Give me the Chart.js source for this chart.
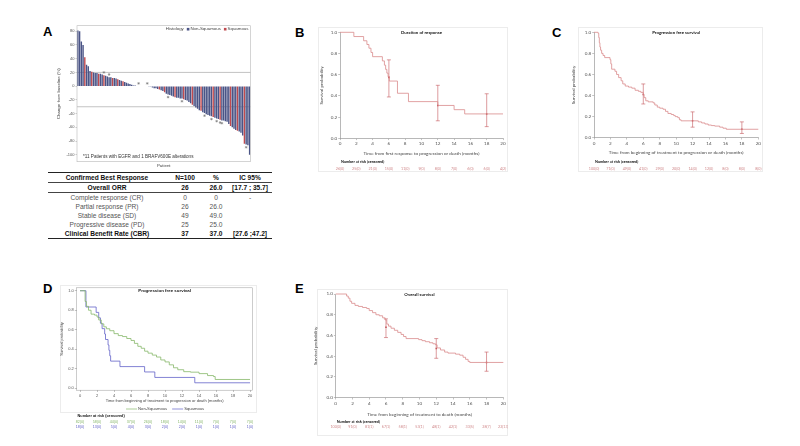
<!DOCTYPE html>
<html>
<head>
<meta charset="utf-8">
<title>Best response and survival</title>
<script src="https://cdn.jsdelivr.net/npm/chart.js@4.4.1/dist/chart.umd.min.js"></script>
<style>
  html, body { margin: 0; padding: 0; background: #fff; }
  body { position: relative; width: 800px; height: 446px; overflow: hidden; font-family: "Liberation Sans", Arial, sans-serif; }
  .panel { position: absolute; }
  .frame { position: absolute; border: 1px solid #ececec; box-sizing: border-box; }
  .letter { position: absolute; font: bold 13px/13px "Liberation Sans", Arial, sans-serif; color: #000; }
  #tbl { position: absolute; left: 48px; top: 172px; width: 224px; border-collapse: collapse; table-layout: fixed;
         font: 6.6px "Liberation Sans", Arial, sans-serif; color: #555; }
  #tbl td { height: 9px; line-height: 9px; padding: 0; text-align: center; white-space: nowrap; }
  #tbl tr.b td { font-weight: bold; color: #111; }
  #tbl tr.head td { border-top: 1.6px solid #222; border-bottom: 0.8px solid #444; }
  #tbl tr.orr td { border-bottom: 0.8px solid #444; }
  #tbl tr.last td { border-bottom: 1.6px solid #222; }
</style>
</head>
<body>

<div class="letter" style="left:43px;top:25px">A</div>
<div class="letter" style="left:295px;top:26px">B</div>
<div class="letter" style="left:552px;top:25.5px">C</div>
<div class="letter" style="left:43px;top:281.5px">D</div>
<div class="letter" style="left:295px;top:281.5px">E</div>

<div class="frame" style="left:318px;top:27px;width:190px;height:145px"></div>
<div class="frame" style="left:578px;top:27px;width:185px;height:145px"></div>
<div class="frame" style="left:60px;top:285px;width:197px;height:128px"></div>
<div class="frame" style="left:317px;top:289px;width:191px;height:147px"></div>

<div class="panel" style="left:55px;top:20px;width:200px;height:150px"><canvas id="chartA"></canvas></div>
<div class="panel" style="left:318px;top:27px;width:190px;height:146px"><canvas id="chartB"></canvas></div>
<div class="panel" style="left:570px;top:27px;width:193px;height:146px"><canvas id="chartC"></canvas></div>
<div class="panel" style="left:58px;top:283px;width:200px;height:149px"><canvas id="chartD"></canvas></div>
<div class="panel" style="left:312px;top:289px;width:196px;height:146px"><canvas id="chartE"></canvas></div>

<table id="tbl">
  <colgroup><col style="width:118px"><col style="width:38px"><col style="width:24px"><col style="width:44px"></colgroup>
  <tbody id="tbl-body"></tbody>
</table>

<script>
// ---------- A: waterfall (best change from baseline, %) ----------
const waterfall = [81, 80, 65, 60, 42, 31, 29, 22, 21, 20, 19, 19, 18, 18, 17, 16, 15, 14, 13, 13, 12, 12, 11, 10, 9, 8, 7, 6, 5, 4, 3, 2,
  1, 1, 0, 0, 0, 0, 0, 0, 0, -1, -1,
  -2, -3, -3, -4, -5, -6, -7, -9, -11, -12, -13, -14, -15, -16, -17, -17, -18, -18, -19, -20, -21, -23, -25, -27, -29,
  -31, -33, -35, -36, -38, -39, -41, -42, -43, -44, -45, -46, -47, -48, -49, -50, -50, -51, -52, -55, -58, -60, -62,
  -64, -65, -66, -68, -72, -84, -85, -86, -100];
const squamousIdx = [4, 8, 12, 15, 20, 23, 26, 47, 50, 56, 61, 66, 71, 78, 82, 88, 92, 96];
const alterationIdx = [15, 18, 35, 40, 52, 60, 73, 77, 80, 82, 83, 97];
const waterRefLines = [20, -30];
const waterTicks = [80, 60, 40, 20, 0, -20, -40, -60, -80, -100];

// ---------- A: response table ----------
const respLabels = ['Confirmed Best Response', 'Overall ORR', 'Complete response (CR)', 'Partial response (PR)',
  'Stable disease (SD)', 'Progressive disease (PD)', 'Clinical Benefit Rate (CBR)'];
const respN = ['N=100', '26', '0', '26', '49', '25', '37'];
const respPct = ['%', '26.0', '0', '26.0', '49.0', '25.0', '37.0'];
const respCI = ['IC 95%', '[17.7 ; 35.7]', '-', '', '', '', '[27.6 ;47.2]'];

// ---------- survival axes ----------
const monthTicks = [0, 2, 4, 6, 8, 10, 12, 14, 16, 18, 20];
const probTicks = [0, 0.2, 0.4, 0.6, 0.8, 1.0];

// ---------- B: duration of response ----------
const bTime = [0, 1.7, 2.9, 3.3, 3.55, 3.8, 4.0, 5.2, 5.45, 5.6, 5.75, 5.9, 6.05, 7.05, 8.4, 12.0, 14.0, 15.3, 20];
const bSurv = [1.0, 0.96, 0.92, 0.885, 0.85, 0.81, 0.77, 0.73, 0.69, 0.65, 0.615, 0.58, 0.54, 0.425, 0.346, 0.31, 0.27, 0.23, 0.23];
const bErrT = [6, 12, 18];
const bErrMid = [0.575, 0.31, 0.23];
const bErrLo = [0.39, 0.165, 0.11];
const bErrHi = [0.74, 0.50, 0.42];
const bRisk = ['26(0)', '25(0)', '21(0)', '15(0)', '11(0)', '9(0)', '8(0)', '7(0)', '6(0)', '6(0)', '4(2)'];

// ---------- C: progression free survival ----------
const cTime = [0, 0.5, 0.58, 0.65, 0.72, 0.8, 0.93, 1.1, 1.3, 1.95, 2.05, 2.15, 2.55, 2.75, 3.0, 3.3, 3.5, 3.8, 4.2, 4.6,
  5.0, 5.4, 5.7, 6.0, 6.1, 6.3, 6.6, 7.2, 7.4, 7.7, 8.0, 8.4, 8.7, 9.0, 9.4, 9.7, 9.9, 10.2, 10.4, 10.6,
  12.7, 13.1, 13.5, 13.9, 14.3, 14.7, 15.3, 15.7, 16.1, 20];
const cSurv = [1.0, 0.99, 0.95, 0.9, 0.86, 0.83, 0.8, 0.78, 0.76, 0.74, 0.7, 0.65, 0.63, 0.6, 0.57, 0.54, 0.51, 0.49, 0.48, 0.47,
  0.45, 0.44, 0.43, 0.41, 0.38, 0.35, 0.34, 0.33, 0.31, 0.29, 0.28, 0.27, 0.25, 0.23, 0.22, 0.21, 0.2, 0.19, 0.17, 0.16,
  0.15, 0.14, 0.13, 0.12, 0.115, 0.11, 0.1, 0.09, 0.08, 0.08];
const cErrT = [6, 12, 18];
const cErrMid = [0.41, 0.16, 0.08];
const cErrLo = [0.32, 0.10, 0.04];
const cErrHi = [0.51, 0.245, 0.15];
const cRisk = ['100(0)', '71(0)', '49(0)', '41(0)', '29(0)', '20(0)', '14(0)', '12(0)', '8(0)', '8(0)', '8(0)'];

// ---------- D: PFS by histology ----------
const dNonSqTime = [0, 0.6, 0.75, 1.0, 1.3, 1.7, 2.0, 2.2, 2.5, 2.8, 3.1, 3.5, 4.0, 4.5, 5.0, 5.5, 6.0, 6.4, 6.8, 7.2,
  7.6, 8.0, 8.5, 9.0, 9.5, 10.0, 10.5, 11.0, 11.5, 12.2, 13.0, 14.0, 15.0, 15.7, 15.9, 20];
const dNonSqSurv = [1.0, 0.89, 0.84, 0.80, 0.76, 0.75, 0.73, 0.70, 0.66, 0.63, 0.61, 0.59, 0.56, 0.54, 0.53, 0.51, 0.49, 0.46, 0.43, 0.41,
  0.38, 0.36, 0.34, 0.32, 0.29, 0.27, 0.24, 0.21, 0.19, 0.17, 0.165, 0.15, 0.13, 0.12, 0.09, 0.09];
const dSqTime = [0, 0.7, 1.9, 2.2, 2.4, 2.6, 2.9, 3.0, 3.3, 3.4, 3.5, 3.6, 4.7, 7.6, 8.8, 13.5, 20];
const dSqSurv = [1, 0.833, 0.778, 0.722, 0.667, 0.611, 0.556, 0.5, 0.444, 0.389, 0.333, 0.278, 0.222, 0.167, 0.111, 0.056, 0.056];
const dNonSqRisk = ['82(0)', '58(0)', '44(0)', '37(0)', '26(0)', '18(0)', '14(0)', '11(0)', '7(0)', '7(0)', '7(0)'];
const dSqRisk = ['18(0)', '13(0)', '5(0)', '4(0)', '3(0)', '2(0)', '2(0)', '1(0)', '1(0)', '1(0)', '1(0)'];

// ---------- E: overall survival ----------
const eTime = [0, 1.3, 1.5, 1.7, 1.9, 2.3, 2.7, 3.2, 3.7, 4.0, 4.4, 4.8, 5.2, 5.6, 5.9, 6.1, 6.3, 6.6, 7.0, 7.4,
  7.8, 8.1, 8.4, 9.9, 10.3, 10.7, 11.2, 11.6, 11.9, 12.1, 12.5, 13.0, 13.4, 14.3, 14.8, 15.2, 15.5, 15.8, 16.0, 20];
const eSurv = [1.0, 0.98, 0.96, 0.93, 0.91, 0.89, 0.88, 0.87, 0.86, 0.84, 0.82, 0.80, 0.79, 0.77, 0.75, 0.71, 0.69, 0.67, 0.65, 0.63,
  0.61, 0.59, 0.57, 0.56, 0.55, 0.54, 0.53, 0.52, 0.51, 0.48, 0.46, 0.44, 0.43, 0.42, 0.41, 0.39, 0.37, 0.35, 0.34, 0.34];
const eErrT = [6, 12, 18];
const eErrMid = [0.68, 0.475, 0.34];
const eErrLo = [0.58, 0.38, 0.255];
const eErrHi = [0.76, 0.57, 0.44];
const eRisk = ['100(0)', '91(0)', '81(1)', '67(1)', '58(1)', '53(1)', '48(1)', '42(1)', '33(5)', '28(7)', '22(13)'];

/* ---- styling ---- */
const SANS = '"Liberation Sans", Arial, sans-serif';
const KMFONT = 'Lato, "Liberation Sans", sans-serif';
const NAVY = '#4a5486';
const RED = '#bf4a4f';
const KM_LINE = '#d98a8c';
const KM_ERR = '#c4575c';
const KM_TEXT = '#d08a8c';
const GREEN = '#86b76a';
const BLUE = '#6262c8';

Chart.defaults.animation = false;
Chart.defaults.plugins.tooltip.enabled = false;
Chart.defaults.plugins.legend.display = false;

/* ---- table ---- */
const rowClass = ['b head', 'b orr', '', '', '', '', 'b last'];
document.getElementById('tbl-body').innerHTML = respLabels.map((lab, i) =>
  `<tr class="${rowClass[i]}"><td>${lab}</td><td>${respN[i]}</td><td>${respPct[i]}</td><td>${respCI[i]}</td></tr>`
).join('');

/* ---- A: waterfall ---- */
const waterDecor = {
  id: 'waterDecor',
  beforeDatasetsDraw(chart) {
    const { ctx, chartArea: a, scales: { y } } = chart;
    ctx.save();
    ctx.strokeStyle = '#9a9a9a';
    ctx.lineWidth = 0.6;
    waterRefLines.forEach(v => {
      const py = y.getPixelForValue(v);
      ctx.beginPath(); ctx.moveTo(a.left, py); ctx.lineTo(a.right, py); ctx.stroke();
    });
    ctx.restore();
  },
  afterDraw(chart) {
    const { ctx, chartArea: a } = chart;
    ctx.save();
    ctx.strokeStyle = '#b8b8b8';
    ctx.lineWidth = 0.6;
    ctx.strokeRect(a.left, a.top, a.right - a.left, a.bottom - a.top);

    // legend, right to left
    ctx.font = `4.4px ${SANS}`;
    ctx.textBaseline = 'middle';
    ctx.fillStyle = '#444';
    let x = a.right - 2;
    const ly = a.top + 3.5;
    const item = (txt, col) => {
      const w = ctx.measureText(txt).width;
      x -= w; ctx.fillStyle = '#444'; ctx.fillText(txt, x, ly);
      if (col) { x -= 3.6; ctx.fillStyle = col; ctx.fillRect(x, ly - 1.3, 2.6, 2.6); }
      x -= 3;
    };
    item('Squamous', RED);
    item('Non-Squamous', NAVY);
    item('Histology');

    ctx.fillStyle = '#333';
    ctx.font = `4.6px ${SANS}`;
    ctx.fillText('*11 Patients with EGFR and 1 BRAFV600E alterations', a.left + 6, a.bottom - 5);
    ctx.restore();
  }
};

new Chart(document.getElementById('chartA'), {
  type: 'bar',
  data: {
    labels: waterfall.map((_, i) => i + 1),
    datasets: [
      {
        type: 'line',
        data: waterfall.map((v, i) => alterationIdx.includes(i) ? v + (v >= 0 ? 4 : -4) : null),
        showLine: false,
        pointStyle: 'star',
        pointRadius: 1.3,
        pointBorderColor: '#777',
        pointBorderWidth: 0.5
      },
      {
        data: waterfall,
        backgroundColor: waterfall.map((_, i) => squamousIdx.includes(i) ? RED : NAVY),
        borderWidth: 0,
        barPercentage: 0.82,
        categoryPercentage: 1
      }
    ]
  },
  options: {
    responsive: true,
    maintainAspectRatio: false,
    layout: { padding: { left: 0, right: 3, top: 5.7, bottom: 1.6 } },
    scales: {
      x: {
        afterFit: s => { s.height = 6.7; },
        grid: { display: false },
        border: { display: false },
        ticks: { display: false },
        title: { display: true, text: 'Patient', font: { family: SANS, size: 4.4 }, color: '#444', padding: 0 }
      },
      y: {
        min: -110,
        max: 88,
        afterFit: s => { s.width = 22; },
        afterBuildTicks: s => { s.ticks = waterTicks.map(v => ({ value: v })); },
        grid: { display: true, drawOnChartArea: false, tickLength: 1.5, color: '#999', lineWidth: 0.5 },
        border: { display: false },
        ticks: { font: { family: SANS, size: 4 }, color: '#555', padding: 1 },
        title: { display: true, text: 'Change from baseline (%)', font: { family: SANS, size: 4.4 }, color: '#444', padding: 1 }
      }
    }
  },
  plugins: [waterDecor]
});

/* ---- Kaplan-Meier panels ---- */
function kmChart(id, o) {
  const datasets = [];
  o.curves.forEach(c => datasets.push({
    label: c.label,
    data: c.t.map((x, i) => ({ x, y: c.s[i] })),
    stepped: true,
    borderColor: c.color,
    borderWidth: 0.8,
    pointRadius: 0,
    fill: false,
    clip: 3
  }));
  if (o.err) {
    o.err.t.forEach((t, i) => datasets.push({
      data: [{ x: t, y: o.err.lo[i] }, { x: t, y: o.err.hi[i] }],
      borderColor: KM_ERR,
      borderWidth: 0.6,
      pointStyle: 'line',
      pointRadius: 2,
      pointBorderColor: KM_ERR,
      pointBorderWidth: 0.6,
      clip: 3
    }));
    datasets.push({
      data: o.err.t.map((t, i) => ({ x: t, y: o.err.mid[i] })),
      showLine: false,
      pointStyle: 'rect',
      pointRadius: 1.1,
      pointBackgroundColor: KM_ERR,
      pointBorderWidth: 0
    });
  }

  const decor = {
    id: 'kmDecor',
    afterDraw(chart) {
      const { ctx, chartArea: a, scales: { x, y } } = chart;
      ctx.save();
      if (o.box) {
        ctx.strokeStyle = '#9a9a9a';
        ctx.lineWidth = 0.5;
        ctx.strokeRect(a.left, a.top, a.right - a.left, a.bottom - a.top);
      }
      ctx.fillStyle = '#111';
      ctx.font = `bold ${o.titleSize}px ${o.font}`;
      ctx.textAlign = 'center';
      ctx.textBaseline = 'middle';
      ctx.fillText(o.title, (a.left + a.right) / 2, y.getPixelForValue(1) + 0.5);

      if (o.legend) {
        ctx.font = `4.2px ${o.font}`;
        const parts = o.legend.map(l => ctx.measureText(l.label).width + 14);
        let lx = (a.left + a.right) / 2 - parts.reduce((s, w) => s + w, 0) / 2;
        o.legend.forEach((l, i) => {
          ctx.strokeStyle = l.color; ctx.lineWidth = 0.7;
          ctx.beginPath(); ctx.moveTo(lx, o.legendY); ctx.lineTo(lx + 11, o.legendY); ctx.stroke();
          ctx.fillStyle = '#444'; ctx.textAlign = 'left';
          ctx.fillText(l.label, lx + 12, o.legendY);
          lx += parts[i] + 3;
        });
      }

      ctx.textAlign = 'left';
      ctx.fillStyle = '#111';
      ctx.font = `bold 3.8px ${o.font}`;
      ctx.fillText('Number at risk (censored)', a.left + 1, o.riskHeaderY);
      ctx.textAlign = 'center';
      ctx.font = `3.7px ${o.font}`;
      o.risk.forEach((row, r) => {
        ctx.fillStyle = row.color;
        row.vals.forEach((v, j) => ctx.fillText(v, x.getPixelForValue(monthTicks[j]), o.riskY[r]));
      });
      ctx.restore();
    }
  };

  const tickFont = { family: o.font, size: o.tickSize };
  const titleFont = { family: o.font, size: o.axisTitleSize };
  new Chart(document.getElementById(id), {
    type: 'line',
    data: { datasets },
    options: {
      responsive: true,
      maintainAspectRatio: false,
      layout: { padding: o.pad },
      scales: {
        x: {
          type: 'linear',
          min: o.xMin,
          max: o.xMax,
          afterFit: s => { s.height = o.xH; },
          afterBuildTicks: s => { s.ticks = monthTicks.map(v => ({ value: v })); },
          grid: { display: true, drawOnChartArea: false, tickLength: 1.8, color: '#888', lineWidth: 0.5 },
          border: { display: !o.box, color: '#888', width: 0.6 },
          ticks: { font: tickFont, color: '#555', padding: 1, maxRotation: 0, autoSkip: false },
          title: { display: true, text: o.xTitle, font: titleFont, color: '#444', padding: 0 }
        },
        y: {
          min: o.yMin,
          max: o.yMax,
          afterFit: s => { s.width = o.yW; },
          afterBuildTicks: s => { s.ticks = probTicks.map(v => ({ value: v })); },
          grid: { display: true, drawOnChartArea: false, tickLength: 1.8, color: '#888', lineWidth: 0.5 },
          border: { display: !o.box, color: '#888', width: 0.6 },
          ticks: { font: tickFont, color: '#555', padding: 1, callback: v => v.toFixed(1) },
          title: { display: true, text: 'Survival probability', font: titleFont, color: '#444', padding: 1 }
        }
      }
    },
    plugins: [decor]
  });
}

const kmBase = { font: KMFONT, tickSize: 4.6, axisTitleSize: 4.6, titleSize: 4.4, xMin: 0, xMax: 20, yMin: 0, yMax: 1 };

kmChart('chartB', Object.assign({}, kmBase, {
  title: 'Duration of response',
  xTitle: 'Time from first response to progression or death (months)',
  curves: [{ t: bTime, s: bSurv, color: KM_LINE }],
  err: { t: bErrT, mid: bErrMid, lo: bErrLo, hi: bErrHi },
  risk: [{ vals: bRisk, color: KM_TEXT }],
  yW: 22, xH: 18, pad: { left: 0, right: 5, top: 5.3, bottom: 16.7 },
  riskHeaderY: 135, riskY: [142]
}));

kmChart('chartC', Object.assign({}, kmBase, {
  title: 'Progression free survival',
  xTitle: 'Time from beginning of treatment to progression or death (months)',
  curves: [{ t: cTime, s: cSurv, color: KM_LINE }],
  err: { t: cErrT, mid: cErrMid, lo: cErrLo, hi: cErrHi },
  risk: [{ vals: cRisk, color: KM_TEXT }],
  yW: 24, xH: 18, pad: { left: 0, right: 4.7, top: 5.3, bottom: 17.3 },
  riskHeaderY: 135, riskY: [142]
}));

kmChart('chartD', {
  font: SANS, tickSize: 4, axisTitleSize: 4, titleSize: 4.4,
  xMin: -0.4, xMax: 20.3, yMin: -0.02, yMax: 1.03, box: true,
  title: 'Progression free survival',
  xTitle: 'Time from beginning of treatment to progression or death (months)',
  curves: [
    { t: dNonSqTime, s: dNonSqSurv, color: GREEN, label: 'Non-Squamous' },
    { t: dSqTime, s: dSqSurv, color: BLUE, label: 'Squamous' }
  ],
  legend: [{ label: 'Non-Squamous', color: GREEN }, { label: 'Squamous', color: BLUE }],
  legendY: 126,
  risk: [{ vals: dNonSqRisk, color: GREEN }, { vals: dSqRisk, color: BLUE }],
  yW: 18.6, xH: 13, pad: { left: 0, right: 5.4, top: 4.8, bottom: 28.8 },
  riskHeaderY: 133, riskY: [139, 144]
});

kmChart('chartE', Object.assign({}, kmBase, {
  title: 'Overall survival',
  xTitle: 'Time from beginning of treatment to death (months)',
  curves: [{ t: eTime, s: eSurv, color: KM_LINE }],
  err: { t: eErrT, mid: eErrMid, lo: eErrLo, hi: eErrHi },
  risk: [{ vals: eRisk, color: KM_TEXT }],
  yW: 23.7, xH: 20, pad: { left: 0, right: 4.7, top: 5, bottom: 17.3 },
  riskHeaderY: 132.7, riskY: [138]
}));
</script>
</body>
</html>
